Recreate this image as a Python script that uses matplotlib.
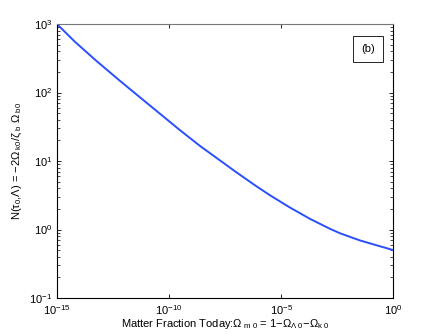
import matplotlib
matplotlib.use('Agg')
import matplotlib.pyplot as plt
import numpy as np

plt.rcParams['font.family'] = ['Liberation Sans', 'DejaVu Sans']
plt.rcParams['mathtext.fontset'] = 'custom'
plt.rcParams['mathtext.rm'] = 'Liberation Sans'
plt.rcParams['mathtext.it'] = 'Liberation Sans'

# curve: log10 of matter fraction, and N
x_exp = [-15, -14.196, -13.304, -12.188, -11.295, -10.402, -9.509, -8.616,
         -7.054, -6.161, -5.491, -4.598, -3.705, -2.813, -2.366, -1.473,
         -0.580, 0]
n_vals = [1000, 550, 302, 148, 85.1, 49.0, 28.2, 16.6,
          7.08, 4.42, 3.16, 2.09, 1.43, 1.023, 0.881, 0.692,
          0.569, 0.502]

x = 10.0 ** np.array(x_exp)

fig = plt.figure(figsize=(4.36, 3.34), dpi=100)
ax = fig.add_axes([0.1307, 0.1078, 0.7707, 0.8202])
ax.plot(x, n_vals, color='#2a4fff', linewidth=1.4)
ax.set_xscale('log')
ax.set_yscale('log')
ax.set_xlim(1e-15, 1)
ax.set_ylim(1e-1, 1e3)
ax.set_xticks([1e-15, 1e-10, 1e-5, 1])
ax.xaxis.set_minor_locator(matplotlib.ticker.NullLocator())
ax.tick_params(which='both', direction='in', top=True, right=True, labelsize=8)
ax.tick_params(which='major', length=3, width=0.6)
ax.tick_params(which='minor', length=2, width=0.5)
for s in ax.spines.values():
    s.set_linewidth(0.8)
ax.spines['top'].set_color('#777777')

ax.set_xlabel(r'Matter Fraction Today:$\Omega_{\ m\ 0}$ = 1$-\Omega_{\Lambda\ 0}$$-\Omega_{k\ 0}$',
              fontsize=8, labelpad=0)
ax.set_ylabel(r'N($\tau_0$,$\Lambda$) = $-2\Omega_{\ k0}/\zeta_{\ b}\ \Omega_{\ b0}$',
              fontsize=8, labelpad=4)

ax.text(0.926, 0.909, '(b)', transform=ax.transAxes, fontsize=8, ha='center', va='center',
        bbox=dict(boxstyle='square,pad=0.75', facecolor='white', edgecolor='black', linewidth=0.6))

fig.savefig('out.png', dpi=100)
